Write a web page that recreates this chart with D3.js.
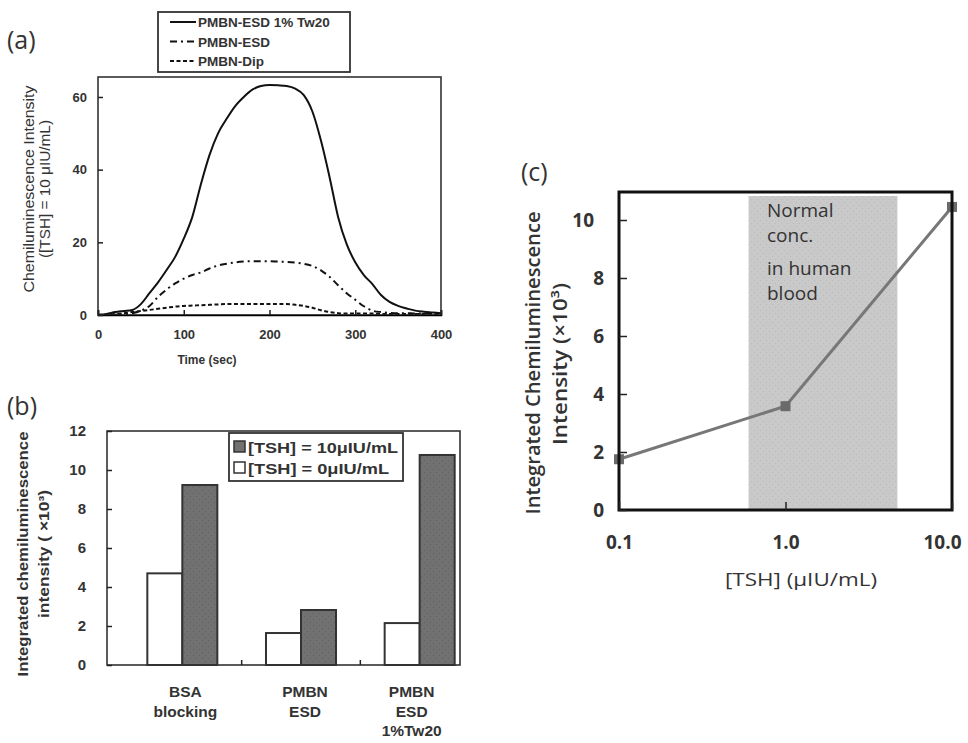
<!DOCTYPE html>
<html>
<head>
<meta charset="utf-8">
<script src="https://cdn.jsdelivr.net/npm/d3@7"></script>
<style>
  body { margin: 0; background: #fff; }
  svg { display: block; }
  .arial { font-family: "Liberation Sans", Arial, sans-serif; font-weight: bold; fill: #333; }
  .cal { font-family: "Open Sans", "Noto Sans", sans-serif; fill: #333; }
</style>
</head>
<body>
<div id="fig"></div>
<script>
// ---- data: panel (a) chemiluminescence vs time ----
var timeSec = [0,10,20,30,40,50,60,70,80,90,100,110,120,130,140,150,160,170,180,190,200,
  210,220,230,240,250,260,270,280,290,300,310,320,330,340,350,360,370,380,390,400];
var esdTw20 = [0.1,0.3,0.8,1.1,1.4,3,6,9,12.4,16,21,27,36,44,50,54,57.5,60,62,63,63.3,
  63.2,63,62.3,60.5,56,48,38,27,19.5,14.5,11,8.5,5.5,3.6,2.5,1.8,1.2,0.9,0.7,0.5];
var esd = [0,0,0.1,0.2,0.5,1.2,2.5,5,7,8.7,10,11,11.7,12.8,13.6,14.1,14.5,14.7,14.8,14.8,14.8,
  14.7,14.6,14.4,14.1,13.5,12.3,10.5,8.2,6,4.2,2.4,1.2,0.8,0.6,0.5,0.5,0.4,0.4,0.4,0.4];
var dip = [0,0.1,0.3,0.5,0.8,1.1,1.4,1.7,2,2.3,2.5,2.6,2.7,2.8,2.9,3,3,3,3,3,3,
  3,3,2.8,2.5,2,1.3,0.8,0.5,0.4,0.4,0.4,0.4,0.3,0.3,0.3,0.3,0.3,0.3,0.3,0.3];
var seriesNames = ["PMBN-ESD 1% Tw20", "PMBN-ESD", "PMBN-Dip"];
var timeTicks = [0,100,200,300,400];
var intensityTicks = [0,20,40,60];

// ---- data: panel (b) bars ----
var barGroups = ["BSA blocking", "PMBN ESD", "PMBN ESD 1%Tw20"];
var barLabels = [["BSA","blocking"], ["PMBN","ESD"], ["PMBN","ESD","1%Tw20"]];
var tsh0 = [4.7, 1.64, 2.15];
var tsh10 = [9.23, 2.82, 10.77];
var barTicks = [0,2,4,6,8,10,12];
var barLegend = ["[TSH] = 10\u03bcIU/mL", "[TSH] = 0\u03bcIU/mL"];

// ---- data: panel (c) dose response ----
var tshConc = [0.1, 1.0, 10.0];
var integrated = [1.75, 3.58, 10.45];
var normalRange = [0.6, 4.7];
var doseTicksX = [0.1, 1, 10];
var doseTicksY = [0,2,4,6,8,10];

var svg = d3.select("#fig").append("svg").attr("width", 968).attr("height", 743);

// dotted texture used by the grey fills
var defs = svg.append("defs");
function dots(id, bg, dot) {
  var p = defs.append("pattern").attr("id", id).attr("patternUnits", "userSpaceOnUse")
    .attr("width", 6).attr("height", 6);
  p.append("rect").attr("width", 6).attr("height", 6).attr("fill", bg);
  p.append("circle").attr("cx", 1.5).attr("cy", 1.5).attr("r", 0.6).attr("fill", dot);
  p.append("circle").attr("cx", 4.5).attr("cy", 4.5).attr("r", 0.6).attr("fill", dot);
}
dots("barDots", "#717171", "#5e5e5e");
dots("bandDots", "#c9c9c9", "#b8b8b8");

// rotated axis title squeezed to the length measured in the picture
function vtitle(g, cls, x, y, len, size, txt) {
  return g.append("text").attr("class", cls).attr("transform", "translate(" + x + "," + y + ") rotate(-90)")
    .attr("text-anchor", "middle").style("font-size", size + "px")
    .attr("textLength", len).attr("lengthAdjust", "spacingAndGlyphs").text(txt);
}

// ================= panel (a) =================
var xa = d3.scaleLinear().domain([0, 400]).range([98, 441]);
var ya = d3.scaleLinear().domain([0, 65.5]).range([315, 77]);

svg.append("text").attr("class", "cal").attr("x", 7).attr("y", 49)
  .style("font-size", "25px").text("(a)");

var gA = svg.append("g");
var lineA = d3.line().x(function(d, i) { return xa(timeSec[i]); }).y(function(d) { return ya(d); })
  .curve(d3.curveMonotoneX);
var dashes = [null, "7,4,2,4", "4,2.5"];
[esdTw20, esd, dip].forEach(function(s, k) {
  gA.append("path").datum(s).attr("d", lineA).attr("fill", "none")
    .attr("stroke", "#111").attr("stroke-width", 2).attr("stroke-dasharray", dashes[k]);
});

gA.append("rect").attr("x", xa(0)).attr("y", ya(65.5)).attr("width", xa(400) - xa(0))
  .attr("height", ya(0) - ya(65.5)).attr("fill", "none").attr("stroke", "#333").attr("stroke-width", 1.6);

gA.append("g").attr("transform", "translate(0," + ya(0) + ")")
  .call(d3.axisBottom(xa).tickValues(timeTicks).tickSize(-5).tickPadding(15))
  .call(function(g) { g.select(".domain").attr("stroke-width", 1.6); });
gA.append("g").attr("transform", "translate(" + xa(0) + ",0)")
  .call(d3.axisLeft(ya).tickValues(intensityTicks).tickSize(-5).tickPadding(11))
  .call(function(g) { g.select(".domain").remove(); });
gA.selectAll(".tick text").attr("class", "arial").style("font-size", "13px");
gA.selectAll(".tick line").attr("stroke", "#222").attr("stroke-width", 1.5);

gA.append("text").attr("class", "arial").attr("x", 207).attr("y", 364)
  .attr("text-anchor", "middle").style("font-size", "12px").text("Time (sec)");
vtitle(gA, "arial", 34, 189, 207, 14, "Chemiluminescence Intensity").style("font-weight", "normal");
vtitle(gA, "arial", 50, 189, 138, 14, "([TSH] = 10 \u03bcIU/mL)").style("font-weight", "normal");

// legend
var legA = svg.append("g");
legA.append("rect").attr("x", 158).attr("y", 12).attr("width", 192).attr("height", 60)
  .attr("fill", "#fff").attr("stroke", "#333").attr("stroke-width", 1.8);
seriesNames.forEach(function(n, k) {
  var yy = 22 + k * 19.5;
  legA.append("line").attr("x1", 170).attr("x2", 196).attr("y1", yy).attr("y2", yy)
    .attr("stroke", "#111").attr("stroke-width", 2).attr("stroke-dasharray", dashes[k]);
  legA.append("text").attr("class", "arial").attr("x", 198).attr("y", yy + 5)
    .style("font-size", "13.5px").text(n);
});

// ================= panel (b) =================
var yb = d3.scaleLinear().domain([0, 12]).range([665, 431]);
var xb = d3.scaleBand().domain(barGroups).range([123, 479]).paddingInner(0.41).paddingOuter(0.205);
var bw = xb.bandwidth() / 2;

svg.append("text").attr("class", "cal").attr("x", 7).attr("y", 415)
  .style("font-size", "25px").text("(b)");

var gB = svg.append("g");
gB.selectAll(".b0").data(tsh0).enter().append("rect")
  .attr("x", function(d, i) { return xb(barGroups[i]); }).attr("width", bw)
  .attr("y", function(d) { return yb(d); }).attr("height", function(d) { return yb(0) - yb(d); })
  .attr("fill", "#fff").attr("stroke", "#333").attr("stroke-width", 2);
gB.selectAll(".b10").data(tsh10).enter().append("rect")
  .attr("x", function(d, i) { return xb(barGroups[i]) + bw; }).attr("width", bw)
  .attr("y", function(d) { return yb(d); }).attr("height", function(d) { return yb(0) - yb(d); })
  .attr("fill", "url(#barDots)").attr("stroke", "#333").attr("stroke-width", 2);

gB.append("rect").attr("x", 107).attr("y", yb(12)).attr("width", 460 - 107)
  .attr("height", yb(0) - yb(12)).attr("fill", "none").attr("stroke", "#333").attr("stroke-width", 1.6);

gB.append("g").attr("transform", "translate(107,0)")
  .call(d3.axisLeft(yb).tickValues(barTicks).tickSize(-5).tickPadding(21))
  .call(function(g) { g.select(".domain").remove(); });
gB.selectAll(".tick text").attr("class", "arial").style("font-size", "15px");
gB.selectAll(".tick line").attr("stroke", "#222").attr("stroke-width", 1.5);

// category separators
barGroups.slice(1).forEach(function(c) {
  var xx = xb(c) - xb.step() * xb.paddingInner() / 2;
  gB.append("line").attr("x1", xx).attr("x2", xx).attr("y1", yb(0)).attr("y2", yb(0) - 5)
    .attr("stroke", "#222").attr("stroke-width", 1.5);
});
barLabels.forEach(function(lines, i) {
  var cx = xb(barGroups[i]) + xb.bandwidth() / 2 + [3, 4, -8][i];
  lines.forEach(function(t, j) {
    gB.append("text").attr("class", "arial").attr("x", cx).attr("y", 697 + j * 19.5)
      .attr("text-anchor", "middle").style("font-size", "15.5px").text(t);
  });
});

vtitle(gB, "arial", 28, 554, 245, 14, "Integrated chemiluminescence");
vtitle(gB, "arial", 49, 554, 128, 14, "intensity ( \u00d710\u00b3)");

var legB = svg.append("g");
legB.append("rect").attr("x", 229).attr("y", 433).attr("width", 174).attr("height", 48)
  .attr("fill", "#fff").attr("stroke", "#333").attr("stroke-width", 1.8);
barLegend.forEach(function(t, k) {
  var yy = 447 + k * 21;
  legB.append("rect").attr("x", 234).attr("y", yy - 6).attr("width", 11).attr("height", 11)
    .attr("fill", k === 0 ? "#717171" : "#fff").attr("stroke", "#333").attr("stroke-width", 1.5);
  legB.append("text").attr("class", "arial").attr("x", 248).attr("y", yy + 6)
    .style("font-size", "15px").attr("textLength", k === 0 ? 150 : 141)
    .attr("lengthAdjust", "spacingAndGlyphs").text(t);
});

// ================= panel (c) =================
var xc = d3.scaleLog().domain([0.1, 10]).range([619, 952]);
var yc = d3.scaleLinear().domain([0, 11]).range([510, 191]);

svg.append("text").attr("class", "cal").attr("x", 521).attr("y", 181)
  .style("font-size", "25px").text("(c)");

var gC = svg.append("g");
gC.append("rect").attr("x", xc(normalRange[0])).attr("y", 196)
  .attr("width", xc(normalRange[1]) - xc(normalRange[0])).attr("height", yc(0) - 196)
  .attr("fill", "url(#bandDots)");
["Normal", "conc.", "in human", "blood"].forEach(function(t, j) {
  gC.append("text").attr("class", "cal").attr("x", 767).attr("y", [217, 242, 275, 300][j])
    .style("font-size", "19px").style("fill", "#333").text(t);
});

var lineC = d3.line().x(function(d, i) { return xc(tshConc[i]); }).y(function(d) { return yc(d); });
gC.append("path").datum(integrated).attr("d", lineC).attr("fill", "none")
  .attr("stroke", "#777").attr("stroke-width", 3);
gC.selectAll(".pt").data(integrated).enter().append("rect")
  .attr("x", function(d, i) { return xc(tshConc[i]) - 5; }).attr("y", function(d) { return yc(d) - 5; })
  .attr("width", 10).attr("height", 10).attr("fill", "#6a6a6a");

gC.append("rect").attr("x", 619).attr("y", 192).attr("width", 952 - 619).attr("height", 510 - 192)
  .attr("fill", "none").attr("stroke", "#111").attr("stroke-width", 3);

gC.append("g").attr("transform", "translate(619,0)")
  .call(d3.axisLeft(yc).tickValues(doseTicksY).tickSize(-8).tickPadding(15))
  .call(function(g) { g.select(".domain").remove(); });
gC.append("g").attr("transform", "translate(0,510)")
  .call(d3.axisBottom(xc).tickValues(doseTicksX).tickSize(-8).tickPadding(26).tickFormat(d3.format(".1f")))
  .call(function(g) { g.select(".domain").remove(); });
gC.selectAll(".tick text").attr("class", "cal").style("font-size", "19px").style("font-weight", "bold");
gC.selectAll(".tick text").filter(function(d) { return d === 10; }).attr("dx", -10);
gC.selectAll(".tick line").attr("stroke", "#222").attr("stroke-width", 1.5);

gC.append("text").attr("class", "cal").attr("x", 801).attr("y", 586)
  .attr("text-anchor", "middle").style("font-size", "19px")
  .attr("textLength", 152).attr("lengthAdjust", "spacingAndGlyphs").text("[TSH]  (\u03bcIU/mL)");
vtitle(gC, "cal", 540, 363, 303, 19, "Integrated Chemiluminescence").style("font-weight", "600");
vtitle(gC, "cal", 567, 364, 162, 19, "Intensity (\u00d710\u00b3)").style("font-weight", "600");
</script>
</body>
</html>
